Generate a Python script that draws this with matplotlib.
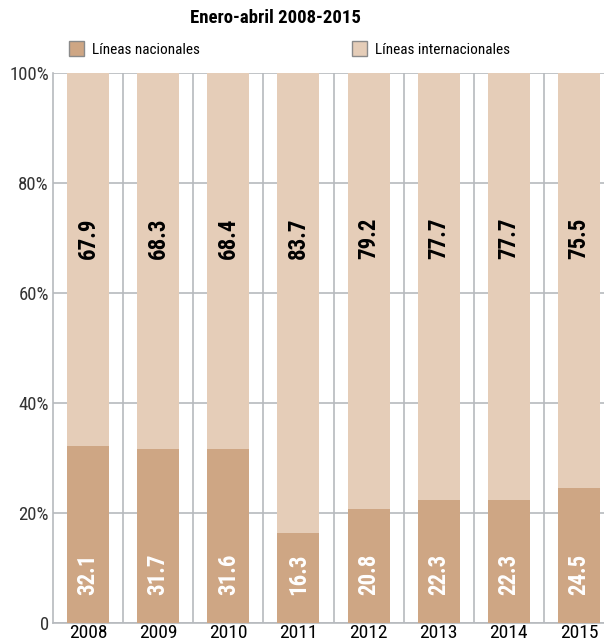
import numpy as np
import matplotlib.pyplot as plt
from matplotlib.ticker import FixedLocator

years = ['2008', '2009', '2010', '2011', '2012', '2013', '2014', '2015']
nacionales = [32.1, 31.7, 31.6, 16.3, 20.8, 22.3, 22.3, 24.5]
internacionales = [67.9, 68.3, 68.4, 83.7, 79.2, 77.7, 77.7, 75.5]
yticks = [0, 20, 40, 60, 80, 100]
ytick_labels = ['0', '20%', '40%', '60%', '80%', '100%']

c_nac = '#cea684'
c_int = '#e5cdb8'
grid_c = '#b6babe'

plt.rcParams['font.family'] = ['Roboto Condensed', 'DejaVu Sans']

fig = plt.figure(figsize=(6.04, 6.44), dpi=100)
# axes run past the right edge, the last column is cut like in the original
ax = fig.add_axes([53 / 604, 21 / 644, 561 / 604, 550 / 644])

x = np.arange(len(years))
b1 = ax.bar(x, nacionales, width=0.6, color=c_nac, zorder=3, label='Líneas nacionales')
b2 = ax.bar(x, internacionales, width=0.6, bottom=nacionales, color=c_int, zorder=3,
            label='Líneas internacionales')

for i in range(len(years)):
    ax.text(x[i], 8.8, f'{nacionales[i]:.1f}', rotation=90, ha='center', va='center',
            color='white', fontsize=16.5, fontweight='bold', zorder=4)
    ax.text(x[i], 70, f'{internacionales[i]:.1f}', rotation=90, ha='center', va='center',
            color='black', fontsize=16.5, fontweight='bold', zorder=4)

ax.set_xlim(-0.5, len(years) - 0.5)
ax.set_ylim(0, 100)
ax.set_xticks(x)
ax.set_xticklabels(years, fontsize=14)
ax.set_yticks(yticks)
ax.set_yticklabels(ytick_labels, fontsize=13.5, color='#333333')
ax.tick_params(axis='both', length=0)
ax.tick_params(axis='x', pad=1)
ax.tick_params(axis='y', pad=3)

ax.yaxis.grid(True, color=grid_c, lw=1.2, zorder=1)
ax.xaxis.set_minor_locator(FixedLocator(x[1:] - 0.5))
ax.xaxis.grid(True, which='minor', color=grid_c, lw=1.2, zorder=1)
ax.tick_params(axis='x', which='minor', length=0)
ax.set_axisbelow(True)

for s in ['top', 'right']:
    ax.spines[s].set_visible(False)
for s in ['left', 'bottom']:
    ax.spines[s].set_color(grid_c)
    ax.spines[s].set_linewidth(1.2)

fig.text(275 / 604, 1 - 18 / 644, 'Enero-abril 2008-2015', ha='center', va='center',
         fontsize=13.5, fontweight='bold')

# two single-entry legends, placed where each sits in the original
for h, lx in [(b1, 69), (b2, 352)]:
    leg = fig.legend(handles=[h], loc='center left', bbox_to_anchor=(lx / 604, 1 - 49 / 644),
                     frameon=False, fontsize=11, handlelength=0.95, handleheight=1.15,
                     handletextpad=0.55, borderaxespad=0, borderpad=0)
    for p in leg.legend_handles:
        p.set_edgecolor('#8a8a8a')
        p.set_linewidth(1.0)

fig.savefig('out.png', dpi=100)
